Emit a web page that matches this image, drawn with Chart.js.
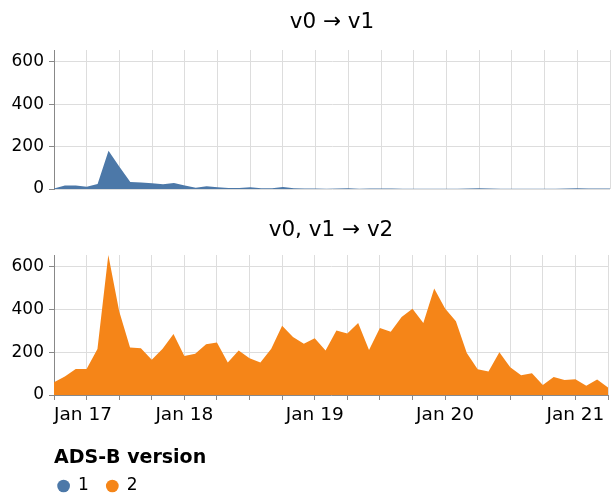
<!DOCTYPE html>
<html>
<head>
<meta charset="utf-8">
<script src="https://cdn.jsdelivr.net/npm/chart.js@4.4.1/dist/chart.umd.min.js"></script>
<style>
  body { margin: 0; background: #fff; overflow: hidden; }
  .box { position: absolute; left: 0; width: 612px; }
  #top { top: 0; height: 210px; }
  #bottom { top: 200px; height: 305px; }
</style>
</head>
<body>
<div class="box" id="top"><canvas id="chartTop"></canvas></div>
<div class="box" id="bottom"><canvas id="chartBottom"></canvas></div>
<script>
// monthly buckets, Jan 2017 .. Apr 2021
const months = [
  '2017-01', '2017-02', '2017-03', '2017-04', '2017-05', '2017-06', '2017-07', '2017-08', '2017-09', '2017-10', '2017-11', '2017-12',
  '2018-01', '2018-02', '2018-03', '2018-04', '2018-05', '2018-06', '2018-07', '2018-08', '2018-09', '2018-10', '2018-11', '2018-12',
  '2019-01', '2019-02', '2019-03', '2019-04', '2019-05', '2019-06', '2019-07', '2019-08', '2019-09', '2019-10', '2019-11', '2019-12',
  '2020-01', '2020-02', '2020-03', '2020-04', '2020-05', '2020-06', '2020-07', '2020-08', '2020-09', '2020-10', '2020-11', '2020-12',
  '2021-01', '2021-02', '2021-03', '2021-04'
];

const titles = ['v0 \u2192 v1', 'v0, v1 \u2192 v2'];
const versions = ['1', '2'];
const colors = ['#4c78a8', '#f58518'];

// transitions to ADS-B version 1
const v1Counts = [
  2, 16, 16, 11, 24, 180, 105, 33, 31, 27, 22, 28,
  16, 6, 13, 8, 5, 5, 8, 4, 4, 10, 4, 2,
  2, 1, 2, 3, 1, 2, 2, 2, 1, 1, 1, 1,
  1, 1, 2, 3, 2, 1, 1, 1, 1, 1, 1, 2,
  4, 2, 2, 2
];

// transitions to ADS-B version 2
const v2Counts = [
  60, 86, 122, 122, 215, 655, 392, 222, 219, 165, 216, 285,
  183, 193, 237, 246, 152, 208, 172, 152, 216, 324, 271, 240,
  266, 208, 302, 288, 337, 211, 313, 296, 365, 404, 337, 498,
  405, 345, 196, 120, 110, 200, 130, 92, 102, 47, 84, 70,
  74, 43, 73, 35
];

const yMax = Math.max(...v1Counts, ...v2Counts);

Chart.defaults.font.family = 'DejaVu Sans';
Chart.defaults.color = '#000';

function tickLabel(v) {
  const m = months[v];
  if (!m || !m.endsWith('-01')) return '';
  return 'Jan ' + m.slice(2, 4);
}

function makeOptions(title, showX, titlePad) {
  return {
    responsive: true,
    maintainAspectRatio: false,
    animation: false,
    layout: { padding: { left: 0, right: 2, top: 0, bottom: showX ? 0.5 : 21 } },
    scales: {
      x: {
        type: 'linear',
        min: 0,
        max: months.length - 1,
        afterFit: s => { s.height = showX ? 30 : 0; },
        grid: { color: '#ddd', tickColor: '#888', tickLength: 5, drawTicks: showX },
        border: { display: showX, color: '#888' },
        ticks: {
          display: showX,
          stepSize: 3,
          autoSkip: false,
          maxRotation: 0,
          align: 'inner',
          padding: 4,
          font: { size: 18.5 },
          callback: v => tickLabel(v)
        }
      },
      y: {
        min: 0,
        max: yMax,
        afterFit: s => { s.width = 54; },
        grid: { color: '#ddd', tickColor: '#888', tickLength: 5 },
        border: { color: '#888' },
        ticks: { stepSize: 200, includeBounds: false, padding: 5, font: { size: 17 } }
      }
    },
    plugins: {
      title: {
        display: true,
        fullSize: false,
        text: title,
        font: { size: 21.5, weight: 'normal' },
        color: '#000',
        padding: titlePad
      },
      tooltip: { enabled: false },
      legend: showX ? {
        display: true,
        position: 'bottom',
        align: 'start',
        fullSize: false,
        title: {
          display: true,
          text: 'ADS-B version',
          position: 'start',
          color: '#000',
          font: { size: 19, weight: 'bold' },
          padding: { top: 24, bottom: 2 }
        },
        labels: {
          usePointStyle: true,
          boxWidth: 11.8,
          boxHeight: 9,
          padding: 3.7,
          color: '#000',
          font: { size: 17 },
          // trailing gap keeps Vega-style column spacing between entries
          generateLabels: () => versions.map((v, i) => ({
            text: v + '\u2002 ',
            fillStyle: colors[i],
            strokeStyle: colors[i],
            lineWidth: 0,
            pointStyle: 'circle',
            hidden: false,
            datasetIndex: i
          }))
        }
      } : { display: false }
    }
  };
}

function areaDataset(label, values, color) {
  return {
    label: label,
    data: values.map((v, i) => ({ x: i, y: v })),
    fill: 'origin',
    backgroundColor: color,
    borderColor: 'rgba(0,0,0,0)',
    borderWidth: 0,
    pointRadius: 0,
    tension: 0
  };
}

new Chart(document.getElementById('chartTop'), {
  type: 'line',
  data: { datasets: [areaDataset(versions[0], v1Counts, colors[0])] },
  options: makeOptions(titles[0], false, { top: 10, bottom: 14.2 })
});

new Chart(document.getElementById('chartBottom'), {
  type: 'line',
  data: { datasets: [areaDataset(versions[1], v2Counts, colors[1])] },
  options: makeOptions(titles[1], true, { top: 18, bottom: 11.2 })
});
</script>
</body>
</html>
